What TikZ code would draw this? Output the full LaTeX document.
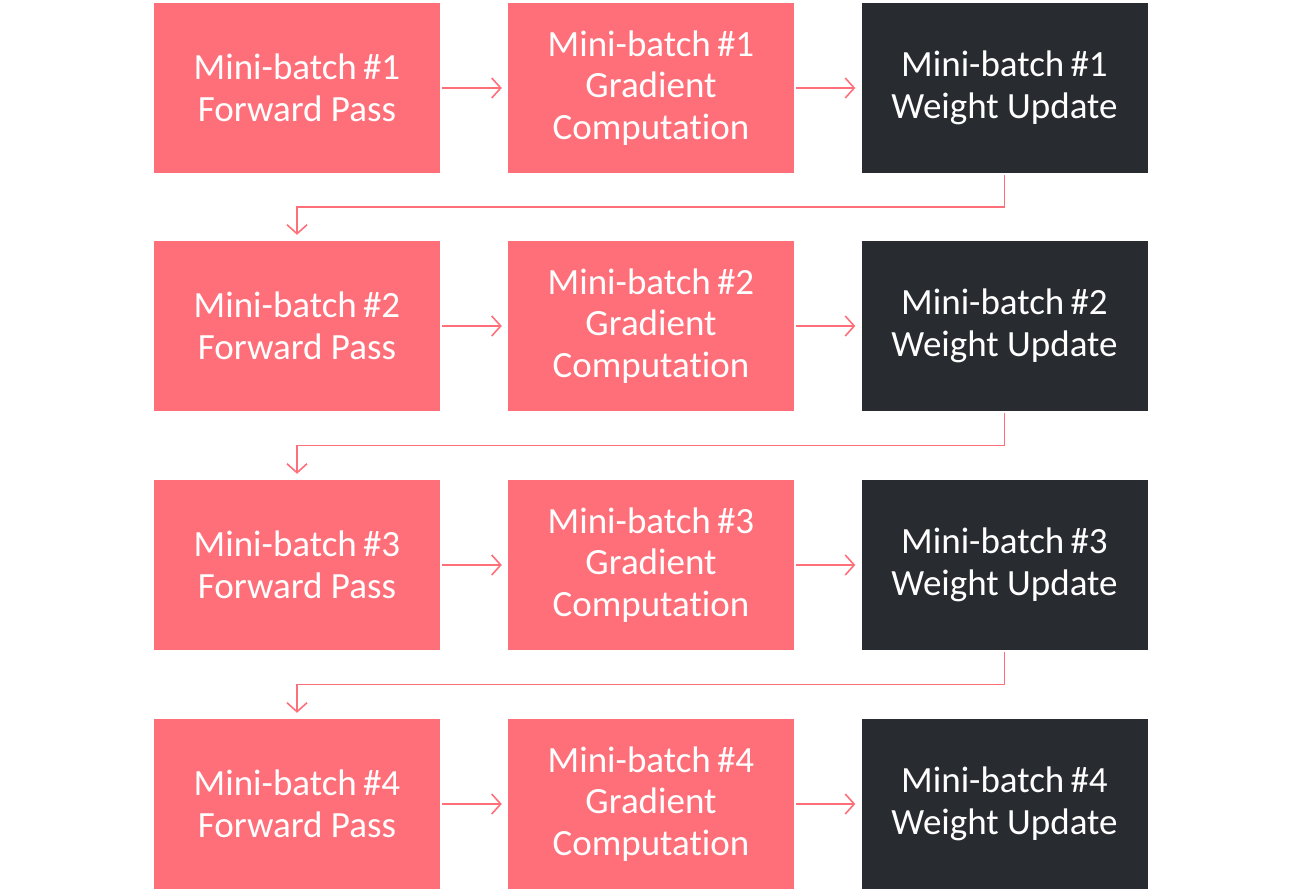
\documentclass[tikz,border=0pt]{standalone}
\usepackage{fontspec}
\setmainfont{Carlito}[Ligatures=NoCommon]
\usetikzlibrary{arrows.meta,calc}
\definecolor{pinkbox}{RGB}{255,111,121}
\definecolor{darkbox}{RGB}{40,43,48}
\tikzset{
  box/.style={minimum width=286pt, minimum height=170pt, inner sep=0pt, align=center,
    text=white, font=\fontsize{37}{41.5}\selectfont},
  pbox/.style={box, fill=pinkbox},
  dbox/.style={box, fill=darkbox},
  conn/.style={draw=pinkbox, line width=1.6pt, -{Straight Barb[length=9pt,width=20pt,line width=1.6pt]}}
}
\begin{document}
\begin{tikzpicture}[x=1pt,y=-1pt]
\useasboundingbox (0,0) rectangle (1302,891);
\foreach \i/\y in {1/88,2/326,3/565,4/804}{
  \node[pbox] (f\i) at (297,\y) {Mini-batch\,\#\i\\Forward Pass};
  \node[pbox] (g\i) at (651,\y) {Mini-batch\,\#\i\\Gradient\\Computation};
  \node[dbox] (w\i) at (1004.5,\y) {Mini-batch\,\#\i\\Weight Update};
  \draw[conn] ([xshift=2pt]f\i.east) -- ([xshift=-6pt]g\i.west);
  \draw[conn] ([xshift=2pt]g\i.east) -- ([xshift=-6pt]w\i.west);
}
\foreach \i/\j in {1/2,2/3,3/4}{
  \coordinate (m\i) at ($(w\i.south)!0.5!(f\j.north)$);
  \draw[conn] ([yshift=-2pt]w\i.south) |- (m\i) -| ([yshift=6pt]f\j.north);
}
\end{tikzpicture}
\end{document}
